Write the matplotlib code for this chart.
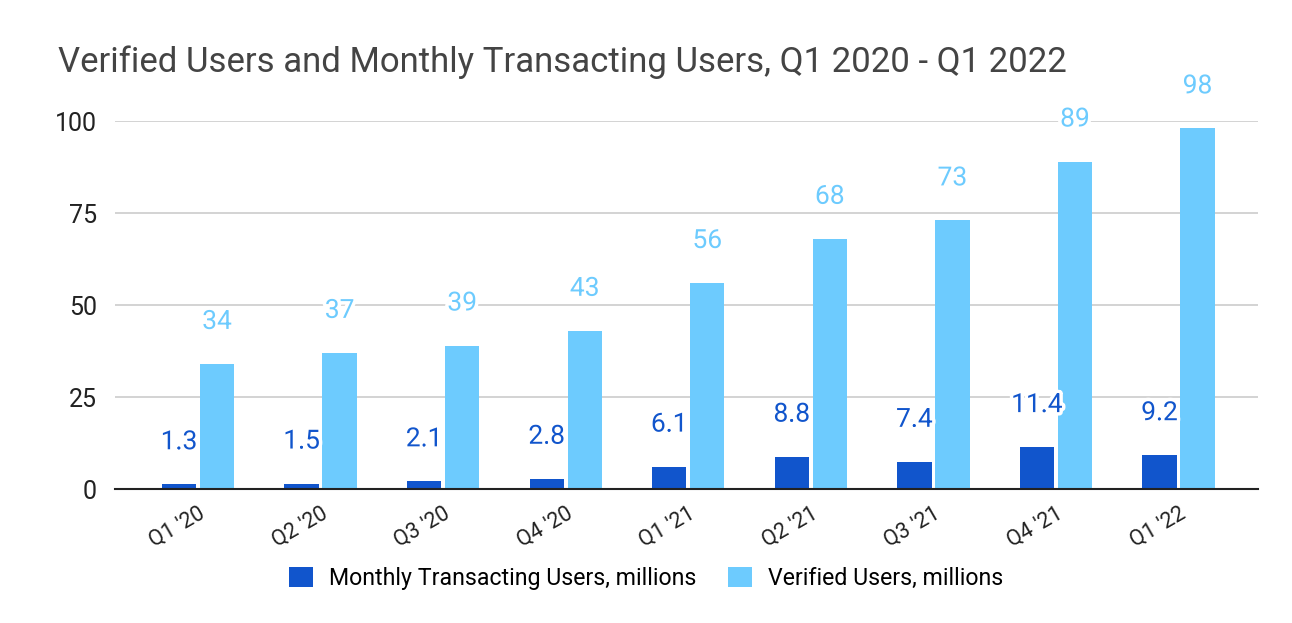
import numpy as np
import matplotlib as m
m.use('Agg')
import matplotlib.pyplot as plt
import matplotlib.patheffects as pe
import matplotlib.transforms as mtrans

plt.rcParams['font.family'] = ['Roboto', 'DejaVu Sans']

quarters = ["Q1 '20", "Q2 '20", "Q3 '20", "Q4 '20", "Q1 '21", "Q2 '21", "Q3 '21", "Q4 '21", "Q1 '22"]
mtu = [1.3, 1.5, 2.1, 2.8, 6.1, 8.8, 7.4, 11.4, 9.2]
verified = [34, 37, 39, 43, 56, 68, 73, 89, 98]
mtu_labels = ['1.3', '1.5', '2.1', '2.8', '6.1', '8.8', '7.4', '11.4', '9.2']
ver_labels = ['34', '37', '39', '43', '56', '68', '73', '89', '98']

dark = '#1155cc'
light = '#6dcbfe'

fig = plt.figure(figsize=(12.92, 6.23), dpi=100)
ax = fig.add_axes([0.089, 0.215, 0.8848, 0.5907])

x = np.arange(len(quarters))
w = 0.28
off = 0.155
b1 = ax.bar(x - off, mtu, w, color=dark, label='Monthly Transacting Users, millions', zorder=3)
b2 = ax.bar(x + off, verified, w, color=light, label='Verified Users, millions', zorder=3)

halo = [pe.withStroke(linewidth=5, foreground='white')]
for xi, v, t in zip(x, mtu, mtu_labels):
    ax.annotate(t, (xi - off, v), xytext=(0, 42), textcoords='offset pixels',
                ha='center', va='center', fontsize=19, color=dark, zorder=5,
                path_effects=halo, annotation_clip=False)
for xi, v, t in zip(x, verified, ver_labels):
    ax.annotate(t, (xi + off, v), xytext=(0, 42), textcoords='offset pixels',
                ha='center', va='center', fontsize=19, color=light, zorder=5,
                path_effects=halo, annotation_clip=False)

ax.set_xlim(-0.678, 8.65)
ax.set_ylim(0, 100)
ax.set_yticks([0, 25, 50, 75, 100])
ax.set_xticks(x)
ax.set_xticklabels(quarters, rotation=30, ha='right', rotation_mode='anchor', fontsize=15.5, color='#222222')
# nudge rotated labels a bit right so they sit under the pair of bars
shift = mtrans.ScaledTranslation(8 / 100, 0, fig.dpi_scale_trans)
for lab in ax.get_xticklabels():
    lab.set_transform(lab.get_transform() + shift)
ax.tick_params(axis='y', labelsize=18, colors='#222222', length=0, pad=13)
ax.tick_params(axis='x', length=0, pad=10)
ax.grid(axis='y', color='#cccccc', linewidth=1.2, zorder=0)
for s in ['top', 'right', 'left']:
    ax.spines[s].set_visible(False)
ax.spines['bottom'].set_color('#222222')
ax.spines['bottom'].set_linewidth(1.5)
ax.spines['bottom'].set_zorder(4)

fig.text(0.045, 0.9, 'Verified Users and Monthly Transacting Users, Q1 2020 - Q1 2022',
         fontsize=25, color='#444444', ha='left', va='center')

fig.legend(handles=[b1, b2], loc='center', bbox_to_anchor=(0.5, 0.072), ncol=2,
           frameon=False, fontsize=16.7, handlelength=1.03, handleheight=0.95,
           columnspacing=1.38, handletextpad=0.69)

fig.savefig('out.png', dpi=100)
